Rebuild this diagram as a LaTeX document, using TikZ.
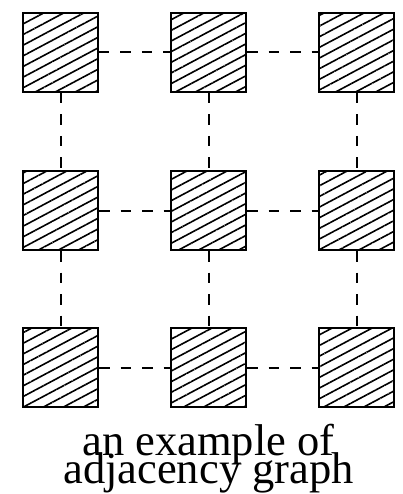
\documentclass[tikz,border=0pt]{standalone}
\usepackage{fontspec}
\setmainfont{Liberation Serif}
\usetikzlibrary{patterns.meta}

\tikzset{
  cell/.style={draw, line width=2pt, minimum width=75pt, minimum height=79pt, inner sep=0pt,
    pattern={Lines[angle=28,distance=9.4pt,line width=1.6pt]}},
  link/.style={line width=2pt, dash pattern=on 10.5pt off 11pt}
}

\begin{document}
\begin{tikzpicture}[x=1pt, y=-1pt]
  \useasboundingbox (0,0) rectangle (403,494);

  %% Top row
  \node[cell] (tl) at (60.5,52.5)  {};
  \node[cell] (tc) at (208.5,52.5) {};
  \node[cell] (tr) at (356.5,52.5) {};

  %% Middle row
  \node[cell] (ml) at (60.5,210.5)  {};
  \node[cell] (mc) at (208.5,210.5) {};
  \node[cell] (mr) at (356.5,210.5) {};

  %% Bottom row
  \node[cell] (bl) at (60.5,367.5)  {};
  \node[cell] (bc) at (208.5,367.5) {};
  \node[cell] (br) at (356.5,367.5) {};

  %% Horizontal neighbours
  \draw[link] (tl.east) -- (tc.west);
  \draw[link] (tc.east) -- (tr.west);
  \draw[link] (ml.east) -- (mc.west);
  \draw[link] (mc.east) -- (mr.west);
  \draw[link] (bl.east) -- (bc.west);
  \draw[link] (bc.east) -- (br.west);

  %% Vertical neighbours
  \draw[link] (tl.south) -- (ml.north);
  \draw[link] (ml.south) -- (bl.north);
  \draw[link] (tc.south) -- (mc.north);
  \draw[link] (mc.south) -- (bc.north);
  \draw[link] (tr.south) -- (mr.north);
  \draw[link] (mr.south) -- (br.north);

  %% Caption
  \node[align=center, font={\fontsize{44.5}{28}\selectfont\lineskiplimit=-1000pt\relax}, inner sep=0pt, anchor=base] (caption) at (208.5,483)
    {an example of\\adjacency graph};
\end{tikzpicture}
\end{document}
